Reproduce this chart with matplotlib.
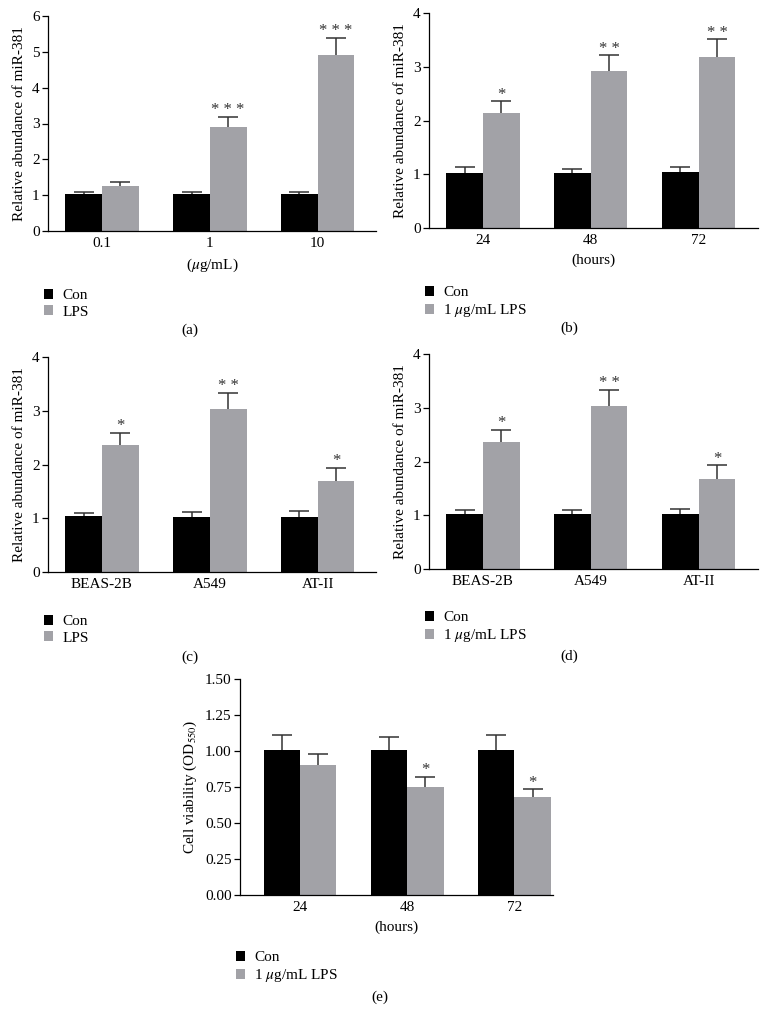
import matplotlib
matplotlib.use('Agg')
import matplotlib.pyplot as plt
import numpy as np

plt.rcParams['font.family'] = ['Liberation Serif', 'DejaVu Serif']
plt.rcParams['mathtext.fontset'] = 'stix'

W, H = 762, 1011

# panel (a)
a_cats = ['0.1', '1', '10']
a_con = [1.02, 1.02, 1.02]
a_con_err = [0.06, 0.08, 0.06]
a_lps = [1.26, 2.91, 4.91]
a_lps_err = [0.10, 0.28, 0.49]
a_stars = ['', '***', '***']

# panel (b)
b_cats = ['24', '48', '72']
b_con = [1.03, 1.02, 1.04]
b_con_err = [0.10, 0.07, 0.09]
b_lps = [2.14, 2.92, 3.18]
b_lps_err = [0.22, 0.29, 0.33]
b_stars = ['*', '**', '**']

# panel (c)
c_cats = ['BEAS-2B', 'A549', 'AT-II']
c_con = [1.04, 1.03, 1.03]
c_con_err = [0.05, 0.08, 0.10]
c_lps = [2.37, 3.04, 1.70]
c_lps_err = [0.22, 0.29, 0.24]
c_stars = ['*', '**', '*']

# panel (d)
d_cats = ['BEAS-2B', 'A549', 'AT-II']
d_con = [1.02, 1.02, 1.02]
d_con_err = [0.07, 0.08, 0.10]
d_lps = [2.36, 3.04, 1.68]
d_lps_err = [0.23, 0.29, 0.25]
d_stars = ['*', '**', '*']

# panel (e)
e_cats = ['24', '48', '72']
e_con = [1.01, 1.01, 1.01]
e_con_err = [0.10, 0.085, 0.10]
e_lps = [0.90, 0.75, 0.68]
e_lps_err = [0.08, 0.07, 0.055]
e_stars = ['', '*', '*']

BLACK = '#000000'
GRAY = '#a2a2a7'
FS = 11

fig = plt.figure(figsize=(W / 100, H / 100), dpi=100)


def px_axes(l, t, r, b):
    return fig.add_axes([l / W, 1 - b / H, (r - l) / W, (b - t) / H])


def panel(rect, cats, con, con_err, lps, lps_err, stars, ymax, yticks, yfmt,
          ylabel, xlabel, lps_label, letter, leg_y, letter_y, letter_x, xlim):
    ax = px_axes(*rect)
    x = np.arange(len(cats))
    w = 0.34
    # error bars drawn behind the bars, so only the upper half shows
    ekw = dict(fmt='none', ecolor='#333333', elinewidth=1.1, capsize=7,
               capthick=1.1, zorder=1)
    ax.errorbar(x - w / 2, con, yerr=con_err, **ekw)
    ax.errorbar(x + w / 2, lps, yerr=lps_err, **ekw)
    b1 = ax.bar(x - w / 2, con, w, color=BLACK, label='Con', zorder=2)
    b2 = ax.bar(x + w / 2, lps, w, color=GRAY, label=lps_label, zorder=2)
    for xi, v, e, s in zip(x, lps, lps_err, stars):
        if s:
            ax.annotate(' '.join(s), (xi + w / 2, v + e), xytext=(0, -1),
                        textcoords='offset points', ha='center', va='bottom',
                        fontsize=12, color='#333333')
    ax.set_xlim(*xlim)
    ax.set_ylim(0, ymax)
    ax.set_yticks(yticks)
    ax.set_yticklabels([yfmt.format(t) for t in yticks], fontsize=FS)
    ax.set_xticks(x)
    ax.set_xticklabels(cats, fontsize=FS)
    ax.tick_params(axis='x', length=0, pad=4)
    ax.tick_params(axis='y', length=4, width=0.9, pad=2)
    for s in ['top', 'right']:
        ax.spines[s].set_visible(False)
    for s in ['left', 'bottom']:
        ax.spines[s].set_linewidth(0.9)
    ax.set_ylabel(ylabel, fontsize=FS, labelpad=4)
    if xlabel:
        ax.set_xlabel(xlabel, fontsize=FS, labelpad=5)
    ax.legend(handles=[b1, b2], loc='upper left',
              bbox_to_anchor=((rect[0] - 10) / W, 1 - leg_y / H),
              bbox_transform=fig.transFigure, frameon=False, fontsize=FS,
              handlelength=0.6, handleheight=0.6, handletextpad=0.6,
              labelspacing=0.2, borderaxespad=0)
    fig.text(letter_x / W, 1 - letter_y / H, letter, ha='center', va='center', fontsize=FS)
    return ax


panel((48, 16, 376, 231), a_cats, a_con, a_con_err, a_lps, a_lps_err, a_stars,
      6, [0, 1, 2, 3, 4, 5, 6], '{:g}', 'Relative abundance of miR-381',
      '($\\mu$g/mL)', 'LPS', '(a)', 283, 330, 190, (-0.5, 2.54))

panel((429, 13, 758, 228), b_cats, b_con, b_con_err, b_lps, b_lps_err, b_stars,
      4, [0, 1, 2, 3, 4], '{:g}', 'Relative abundance of miR-381',
      '(hours)', '1 $\\mu$g/mL LPS', '(b)', 280, 328, 569, (-0.5, 2.55))

panel((48, 357, 376, 572), c_cats, c_con, c_con_err, c_lps, c_lps_err, c_stars,
      4, [0, 1, 2, 3, 4], '{:g}', 'Relative abundance of miR-381',
      None, 'LPS', '(c)', 609, 657, 190, (-0.5, 2.54))

panel((429, 354, 758, 569), d_cats, d_con, d_con_err, d_lps, d_lps_err, d_stars,
      4, [0, 1, 2, 3, 4], '{:g}', 'Relative abundance of miR-381',
      None, '1 $\\mu$g/mL LPS', '(d)', 605, 656, 569, (-0.5, 2.55))

panel((240, 679, 553, 895), e_cats, e_con, e_con_err, e_lps, e_lps_err, e_stars,
      1.5, [0, 0.25, 0.5, 0.75, 1.0, 1.25, 1.5], '{:.2f}', 'Cell viability (OD$_{550}$)',
      '(hours)', '1 $\\mu$g/mL LPS', '(e)', 945, 997, 380, (-0.56, 2.36))

fig.savefig('out.png', dpi=100, facecolor='white')
